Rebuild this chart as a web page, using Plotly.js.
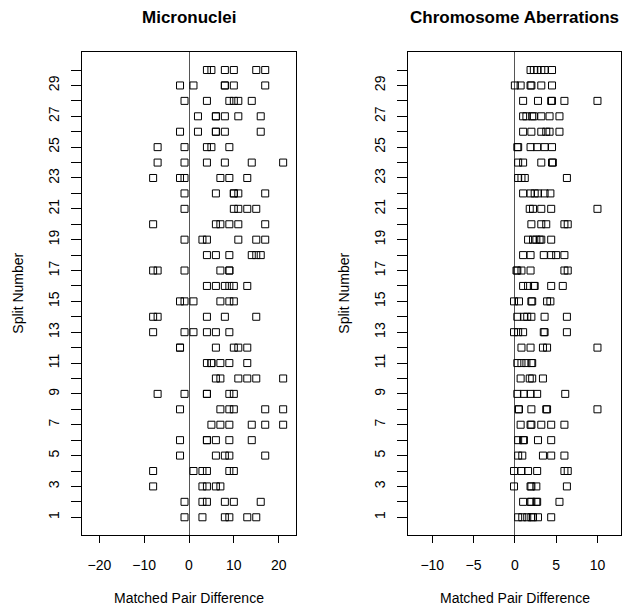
<!DOCTYPE html>
<html>
<head>
<meta charset="utf-8">
<script src="https://cdn.plot.ly/plotly-3.0.1.min.js"></script>
<style>html,body{margin:0;padding:0;background:#fff}#chart{width:625px;height:611px}</style>
</head>
<body>
<div id="chart"></div>
<script>
// Split numbers 1..30
var splitNumbers = [];
for (var s = 1; s <= 30; s++) splitNumbers.push(s);

// Matched pair differences per split (index 0 = split 1)
var micronucleiBySplit = [
  [-1, 3, 8, 9, 13, 15],
  [-1, 3, 4, 8, 10, 16],
  [-8, 3, 4, 6, 7],
  [-8, 1, 3, 4, 9, 10],
  [-2, 6, 8, 9, 17],
  [-2, 4, 4, 6, 9, 14],
  [5, 7, 9, 14, 17, 21],
  [-2, 7, 9, 10, 17, 21],
  [-7, -1, 4, 4, 9, 10],
  [6, 7, 11, 13, 15, 21],
  [4, 5, 5, 7, 9, 13],
  [-2, -2, 6, 10, 11, 13],
  [-8, -1, 1, 4, 6, 9],
  [-8, -7, 4, 8, 15],
  [-2, -1, 1, 7, 9, 10],
  [4, 6, 8, 9, 10, 13],
  [-8, -7, -1, 7, 9, 9],
  [4, 6, 9, 14, 15, 16],
  [-1, 3, 4, 11, 15, 17],
  [-8, 6, 7, 9, 11, 17],
  [-1, 10, 11, 13, 15],
  [-1, 6, 10, 10, 11, 17],
  [-8, -2, -1, 7, 9, 13],
  [-7, -1, 4, 8, 14, 21],
  [-7, -1, 4, 5, 9],
  [-2, 2, 6, 6, 8, 16],
  [2, 6, 6, 8, 11, 16],
  [-1, 4, 9, 10, 11, 14],
  [-2, 1, 8, 8, 10, 17],
  [4, 5, 8, 10, 15, 17]
];

var aberrationsBySplit = [
  [0.4, 0.9, 1.5, 2.0, 2.2, 2.8, 4.4],
  [1.0, 1.9, 2.0, 2.6, 2.7, 5.4],
  [-0.1, 1.9, 2.0, 2.6, 6.3],
  [-0.1, 0.8, 1.6, 2.7, 6.0, 6.4],
  [0.4, 0.9, 3.4, 4.4, 6.0],
  [0.4, 1.0, 1.1, 2.8, 4.4],
  [0.7, 1.9, 2.0, 3.2, 4.4, 6.0],
  [0.45, 0.5, 2.0, 3.8, 3.9, 10.0],
  [0.3, 1.1, 1.9, 2.7, 6.1],
  [0.7, 1.8, 2.1, 3.4],
  [0.3, 0.8, 1.4, 2.0, 2.1],
  [0.8, 1.9, 3.4, 3.9, 10.0],
  [-0.1, 0.4, 1.0, 3.5, 3.6, 6.3],
  [0.3, 1.1, 1.5, 2.0, 3.6, 6.3],
  [-0.1, 0.5, 2.0, 2.1, 3.9, 4.3],
  [1.0, 1.6, 2.3, 2.4, 4.4, 5.8],
  [0.2, 0.3, 0.8, 1.9, 6.0, 6.4],
  [1.0, 1.9, 3.5, 4.4, 5.0, 6.0],
  [1.6, 2.2, 2.6, 3.0, 3.2, 4.4],
  [2.0, 3.2, 3.8, 6.0, 6.4],
  [1.8, 2.2, 3.2, 4.4, 10.0],
  [1.0, 1.9, 2.4, 2.8, 3.6, 4.3],
  [0.4, 0.8, 1.2, 6.3],
  [0.4, 1.0, 3.2, 4.5, 4.6],
  [0.3, 0.4, 1.9, 2.7, 3.6, 4.5],
  [1.0, 2.0, 3.2, 3.8, 4.2, 5.4],
  [1.0, 1.4, 2.1, 2.3, 3.2, 4.2, 5.4],
  [1.0, 2.8, 4.4, 4.5, 6.0, 10.0],
  [0.0, 0.7, 1.9, 2.0, 3.2, 4.5],
  [1.9, 2.3, 2.7, 3.2, 3.6, 4.5]
];

var panelTitles = ["Micronuclei", "Chromosome Aberrations"];
var xTitle = "Matched Pair Difference";
var yTitle = "Split Number";
var xTicksLeft = [-20, -10, 0, 10, 20];
var xTicksRight = [-10, -5, 0, 5, 10];
var yTickText = splitNumbers.map(function (n) { return n % 2 === 1 ? String(n) : ""; });

function flatten(bySplit) {
  var xs = [], ys = [];
  bySplit.forEach(function (row, i) {
    row.forEach(function (v) { xs.push(v); ys.push(splitNumbers[i]); });
  });
  return {x: xs, y: ys};
}

var W = 625, H = 611;
var font = "Liberation Sans, Arial, Helvetica, sans-serif";
var leftDom = [82.3 / W, 295.7 / W];
var rightDom = [408.3 / W, 621 / W];
var yDom = [1 - 535 / H, 1 - 52.3 / H];

var mn = flatten(micronucleiBySplit);
var ab = flatten(aberrationsBySplit);

var markerStyle = {symbol: "square-open", size: 7, color: "#000", line: {width: 1, color: "#000"}};

var traces = [
  {x: mn.x, y: mn.y, type: "scatter", mode: "markers", marker: markerStyle, xaxis: "x", yaxis: "y", hoverinfo: "x+y"},
  {x: ab.x, y: ab.y, type: "scatter", mode: "markers", marker: markerStyle, xaxis: "x2", yaxis: "y2", hoverinfo: "x+y"}
];

function xAxis(dom, range, ticks) {
  return {
    domain: dom, range: range, tickvals: ticks, ticktext: ticks.map(function (t) { return t < 0 ? "\u2212" + Math.abs(t) : String(t); }),
    ticks: "outside", ticklen: 7, tickwidth: 1, tickcolor: "#000",
    showline: true, linecolor: "#000", linewidth: 1, mirror: true,
    showgrid: false, zeroline: true, zerolinecolor: "#555", zerolinewidth: 1,
    tickfont: {family: font, size: 14, color: "#000"}, ticklabelstandoff: 10, fixedrange: true
  };
}
function yAxis(dom, anchor) {
  return {
    domain: dom, range: [-0.15, 31.15], anchor: anchor, tickvals: splitNumbers, ticktext: yTickText,
    tickangle: -90, ticks: "outside", ticklen: 10, tickwidth: 1, tickcolor: "#000",
    showline: true, linecolor: "#000", linewidth: 1, mirror: true,
    showgrid: false, zeroline: false,
    tickfont: {family: font, size: 14, color: "#000"}, ticklabelstandoff: 7, fixedrange: true
  };
}

var layout = {
  width: W, height: H,
  margin: {l: 0, r: 0, t: 0, b: 0},
  paper_bgcolor: "#fff", plot_bgcolor: "#fff",
  showlegend: false,
  xaxis: Object.assign(xAxis(leftDom, [-23.8, 23.8], xTicksLeft), {anchor: "y"}),
  yaxis: yAxis(yDom, "x"),
  xaxis2: Object.assign(xAxis(rightDom, [-12.9, 12.85], xTicksRight), {anchor: "y2"}),
  yaxis2: yAxis(yDom, "x2"),
  annotations: [
    {text: "<b>" + panelTitles[0] + "</b>", x: (leftDom[0] + leftDom[1]) / 2, y: 1 - 18 / H, xref: "paper", yref: "paper", showarrow: false, xanchor: "center", yanchor: "middle", font: {family: font, size: 17, color: "#000"}},
    {text: "<b>" + panelTitles[1] + "</b>", x: (rightDom[0] + rightDom[1]) / 2, y: 1 - 18 / H, xref: "paper", yref: "paper", showarrow: false, xanchor: "center", yanchor: "middle", font: {family: font, size: 17, color: "#000"}},
    {text: xTitle, x: (leftDom[0] + leftDom[1]) / 2, y: 1 - 598 / H, xref: "paper", yref: "paper", showarrow: false, xanchor: "center", yanchor: "middle", font: {family: font, size: 14, color: "#000"}},
    {text: xTitle, x: (rightDom[0] + rightDom[1]) / 2, y: 1 - 598 / H, xref: "paper", yref: "paper", showarrow: false, xanchor: "center", yanchor: "middle", font: {family: font, size: 14, color: "#000"}},
    {text: yTitle, x: 18 / W, y: (yDom[0] + yDom[1]) / 2, xref: "paper", yref: "paper", showarrow: false, textangle: -90, xanchor: "center", yanchor: "middle", font: {family: font, size: 14, color: "#000"}},
    {text: yTitle, x: 344 / W, y: (yDom[0] + yDom[1]) / 2, xref: "paper", yref: "paper", showarrow: false, textangle: -90, xanchor: "center", yanchor: "middle", font: {family: font, size: 14, color: "#000"}}
  ]
};

Plotly.newPlot("chart", traces, layout, {staticPlot: true, displayModeBar: false});
</script>
</body>
</html>
